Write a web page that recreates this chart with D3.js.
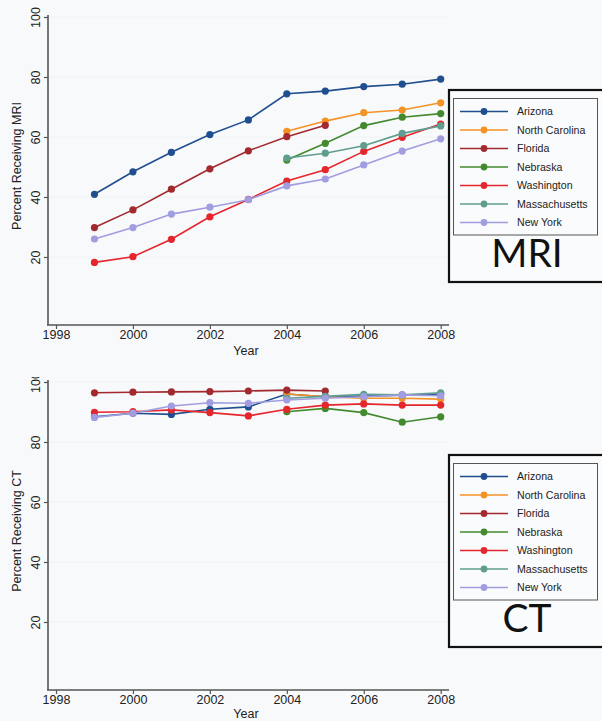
<!DOCTYPE html>
<html lang="en">
<head>
<meta charset="UTF-8">
<title>MRI and CT by state</title>
<script src="https://cdn.jsdelivr.net/npm/d3@7"></script>
<style>
  body { margin: 0; background: #f8f9fb; }
  svg { display: block; font-family: "Liberation Sans", Arial, sans-serif; }
</style>
</head>
<body>
<script>
// years on the x axis
const years = [1999, 2000, 2001, 2002, 2003, 2004, 2005, 2006, 2007, 2008];
const xTicks = [1998, 2000, 2002, 2004, 2006, 2008];
const yTicks = [20, 40, 60, 80, 100];

const states = ["Arizona", "North Carolina", "Florida", "Nebraska", "Washington", "Massachusetts", "New York"];
const colors = ["#1f4f8e", "#f59226", "#a2292e", "#438a2f", "#e5262c", "#5f9e8e", "#a09de0"];

// percent receiving MRI (null = no data that year)
const mriArizona = [40.9, 48.4, 54.9, 60.8, 65.7, 74.4, 75.3, 76.8, 77.6, 79.3];
const mriNorthCarolina = [null, null, null, null, null, 61.9, 65.3, 68.1, 69.0, 71.4];
const mriFlorida = [29.8, 35.7, 42.6, 49.4, 55.4, 60.1, 63.9, null, null, null];
const mriNebraska = [null, null, null, null, null, 52.3, 57.9, 63.8, 66.6, 67.8];
const mriWashington = [18.2, 20.1, 25.9, 33.4, 39.2, 45.3, 49.1, 55.2, 59.9, 64.3];
const mriMassachusetts = [null, null, null, null, null, 53.0, 54.6, 57.1, 61.2, 63.7];
const mriNewYork = [26.0, 29.8, 34.3, 36.6, 39.1, 43.7, 46.0, 50.7, 55.3, 59.4];

// percent receiving CT
const ctArizona = [88.4, 89.6, 89.2, 90.9, 91.7, 96.0, 95.1, 95.3, 95.6, 96.0];
const ctNorthCarolina = [null, null, null, null, null, 96.0, 95.1, 94.6, 94.6, 94.3];
const ctFlorida = [96.4, 96.6, 96.7, 96.8, 97.0, 97.3, 97.0, null, null, null];
const ctNebraska = [null, null, null, null, null, 90.1, 91.2, 89.8, 86.6, 88.4];
const ctWashington = [89.9, 90.1, 90.7, 89.8, 88.7, 90.9, 92.3, 92.7, 92.3, 92.3];
const ctMassachusetts = [null, null, null, null, null, 94.6, 95.2, 95.9, 95.7, 96.4];
const ctNewYork = [88.2, 89.6, 92.0, 93.1, 92.9, 94.0, 94.6, 95.1, 95.7, 95.4];

const mri = [mriArizona, mriNorthCarolina, mriFlorida, mriNebraska, mriWashington, mriMassachusetts, mriNewYork];
const ct = [ctArizona, ctNorthCarolina, ctFlorida, ctNebraska, ctWashington, ctMassachusetts, ctNewYork];

const width = 602, height = 721;

const svg = d3.select("body").append("svg")
    .attr("width", width)
    .attr("height", height);

const x = d3.scaleLinear().domain([1998, 2008]).range([56, 440.7]);

svg.append("defs").append("clipPath").attr("id", "ctclip")
    .append("rect").attr("x", 0).attr("y", 377).attr("width", width).attr("height", height - 377);

function drawPanel(g, series, zeroY, topY, axisY, ytitle, bigLabel, legendTop, yearY) {
    const y = d3.scaleLinear().domain([0, 100]).range([zeroY, topY]);

    // faint grid
    g.append("g").selectAll("line")
        .data(yTicks)
        .join("line")
        .attr("x1", 49).attr("x2", 448)
        .attr("y1", d => y(d)).attr("y2", d => y(d))
        .attr("stroke", "#f0f2f5").attr("stroke-width", 1);

    // y axis
    const ya = g.append("g")
        .attr("transform", "translate(48,0)")
        .call(d3.axisLeft(y).tickValues(yTicks).tickSize(4).tickSizeOuter(0));
    ya.select(".domain").remove();
    ya.selectAll(".tick line").attr("stroke", "#555").attr("stroke-width", 1.2);
    ya.selectAll(".tick text")
        .attr("transform", "rotate(-90)")
        .attr("x", 0).attr("y", -8).attr("dy", 0)
        .attr("text-anchor", "middle")
        .attr("font-size", 12.5)
        .attr("fill", "#222");
    g.append("line")
        .attr("x1", 48).attr("x2", 48)
        .attr("y1", topY - 2).attr("y2", axisY)
        .attr("stroke", "#555").attr("stroke-width", 1.6);

    // x axis
    const xa = g.append("g")
        .attr("transform", `translate(0,${axisY})`)
        .call(d3.axisBottom(x).tickValues(xTicks).tickFormat(d3.format("d")).tickSize(4).tickSizeOuter(0));
    xa.select(".domain").remove();
    xa.selectAll(".tick line").attr("stroke", "#555").attr("stroke-width", 1.2);
    xa.selectAll(".tick text").attr("font-size", 12.5).attr("fill", "#222").attr("dy", "0.55em");
    g.append("line")
        .attr("x1", 47).attr("x2", 449)
        .attr("y1", axisY).attr("y2", axisY)
        .attr("stroke", "#555").attr("stroke-width", 1.6);

    g.append("text")
        .attr("x", 246).attr("y", yearY)
        .attr("text-anchor", "middle")
        .attr("font-size", 12.5)
        .attr("fill", "#222")
        .text("Year");

    g.append("text")
        .attr("transform", `translate(21,${(topY + axisY) / 2 - 5}) rotate(-90)`)
        .attr("text-anchor", "middle")
        .attr("font-size", 12.5)
        .attr("fill", "#222")
        .text(ytitle);

    // lines and markers
    const line = d3.line()
        .defined(d => d.v != null)
        .x(d => x(d.year))
        .y(d => y(d.v));

    series.forEach((vals, i) => {
        const pts = years.map((yr, j) => ({ year: yr, v: vals[j] }));
        g.append("path")
            .datum(pts)
            .attr("d", line)
            .attr("fill", "none")
            .attr("stroke", colors[i])
            .attr("stroke-width", 1.6);
        g.append("g").selectAll("circle")
            .data(pts.filter(d => d.v != null))
            .join("circle")
            .attr("cx", d => x(d.year))
            .attr("cy", d => y(d.v))
            .attr("r", 3.6)
            .attr("fill", colors[i]);
    });

    // legend box
    const lg = g.append("g");
    lg.append("rect")
        .attr("x", 449).attr("y", legendTop)
        .attr("width", 160).attr("height", 192)
        .attr("fill", "#fafbfc")
        .attr("stroke", "#111").attr("stroke-width", 2.2);
    lg.append("rect")
        .attr("x", 453.5).attr("y", legendTop + 8.5)
        .attr("width", 144).attr("height", 136.5)
        .attr("fill", "none")
        .attr("stroke", "#555").attr("stroke-width", 1);
    states.forEach((s, i) => {
        const ry = legendTop + 21.5 + i * 18.5;
        lg.append("line")
            .attr("x1", 460).attr("x2", 508)
            .attr("y1", ry).attr("y2", ry)
            .attr("stroke", colors[i]).attr("stroke-width", 1.6);
        lg.append("circle")
            .attr("cx", 484).attr("cy", ry).attr("r", 3.4)
            .attr("fill", colors[i]);
        lg.append("text")
            .attr("x", 517).attr("y", ry + 3.8)
            .attr("font-size", 10.6)
            .attr("fill", "#222")
            .text(s);
    });
    lg.append("text")
        .attr("x", 527).attr("y", legendTop + 177)
        .attr("text-anchor", "middle")
        .attr("font-family", "Lato, 'Open Sans', sans-serif")
        .attr("font-size", 39)
        .attr("fill", "#111")
        .text(bigLabel);
}

drawPanel(svg.append("g"), mri, 317, 17, 325, "Percent Receiving MRI", "MRI", 90, 355);
drawPanel(svg.append("g").attr("clip-path", "url(#ctclip)"), ct, 682, 382, 690, "Percent Receiving CT", "CT", 455, 718);
</script>
</body>
</html>
